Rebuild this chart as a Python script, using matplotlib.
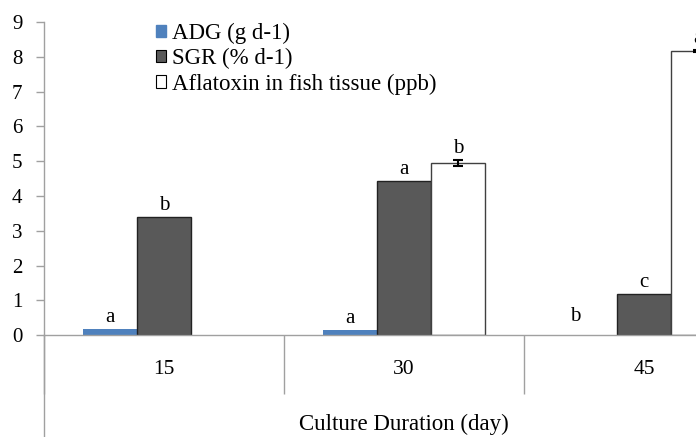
import numpy as np
import matplotlib.pyplot as plt
from matplotlib.patches import Rectangle

plt.rcParams['font.family'] = ['Liberation Serif', 'DejaVu Serif']

days = ['15', '30', '45']
adg = [0.18, 0.15, 0.0]
sgr = [3.41, 4.43, 1.19]
aflatoxin = [np.nan, 4.94, 8.16]
aflatoxin_err = [0, 0.09, 0.03]

adg_letters = ['a', 'a', 'b']
sgr_letters = ['b', 'a', 'c']
afla_letters = ['', 'b', 'a']

blue = '#4F81BD'
dark = '#595959'

fig = plt.figure(figsize=(6.96, 4.37), dpi=100)
# plot area runs past the right edge of the figure
ax = fig.add_axes([44 / 696, 101.7 / 437, 720 / 696, 313.3 / 437])

x = np.arange(len(days))
w = 0.224

ax.bar(x - w, adg, w, color=blue, linewidth=0)
ax.bar(x, sgr, w, color=dark, edgecolor='#222222', linewidth=1)
ax.bar(x + w, aflatoxin, w, color='white', edgecolor='#404040', linewidth=1)
ax.errorbar(x + w, aflatoxin, yerr=aflatoxin_err, fmt='none', ecolor='black',
            elinewidth=1.5, capsize=3.5, capthick=1.5)

def letter(xp, yp, s, dx=0, dy=5):
    if s:
        ax.annotate(s, (xp, yp), xytext=(dx, dy), textcoords='offset points',
                    ha='center', va='baseline', fontsize=15, annotation_clip=False)

for i in range(len(days)):
    if adg[i] == 0:
        letter(x[i] - w, adg[i], adg_letters[i], dx=-11, dy=10)
    else:
        letter(x[i] - w, adg[i], adg_letters[i])
    letter(x[i], sgr[i], sgr_letters[i])
    if not np.isnan(aflatoxin[i]):
        letter(x[i] + w, aflatoxin[i] + aflatoxin_err[i], afla_letters[i])

ax.set_xlim(-0.5, 2.5)
ax.set_ylim(0, 9)
ax.set_yticks(range(10))
ax.tick_params(axis='y', length=5.5, width=1, color='#A0A0A0', pad=10,
               labelsize=15)

# category labels, with divider ticks between the groups
ax.set_xticks(x, days)
ax.tick_params(axis='x', which='major', length=0, pad=18, labelsize=15.5)
ax.set_xticks([-0.5, 0.5, 1.5, 2.5], minor=True)
ax.tick_params(axis='x', which='minor', length=42.5, width=1, color='#A0A0A0')

for side in ['top', 'right']:
    ax.spines[side].set_visible(False)
for side in ['left', 'bottom']:
    ax.spines[side].set_color('#A0A0A0')
    ax.spines[side].set_linewidth(1)
# left axis line continues down past the title row
ax.plot([-0.5, -0.5], [0, -3.2], color='#A0A0A0', lw=1, clip_on=False)

ax.set_xlabel('Culture Duration (day)', fontsize=16.5)
ax.xaxis.set_label_coords(0.5, -0.286)
ax.xaxis.label.set_va('center')

handles = [Rectangle((0, 0), 1, 1, facecolor=blue, edgecolor=blue),
           Rectangle((0, 0), 1, 1, facecolor=dark, edgecolor='black', linewidth=0.8),
           Rectangle((0, 0), 1, 1, facecolor='white', edgecolor='black', linewidth=0.8)]
fig.legend(handles, ['ADG (g d-1)', 'SGR (% d-1)', 'Aflatoxin in fish tissue (ppb)'],
           loc='upper left', bbox_to_anchor=(156 / 696, 1 - 23 / 437),
           frameon=False, fontsize=16.5, handlelength=0.45, handleheight=0.45,
           handletextpad=0.25, labelspacing=0.18, borderpad=0, borderaxespad=0)

fig.savefig('out.png', dpi=100)
